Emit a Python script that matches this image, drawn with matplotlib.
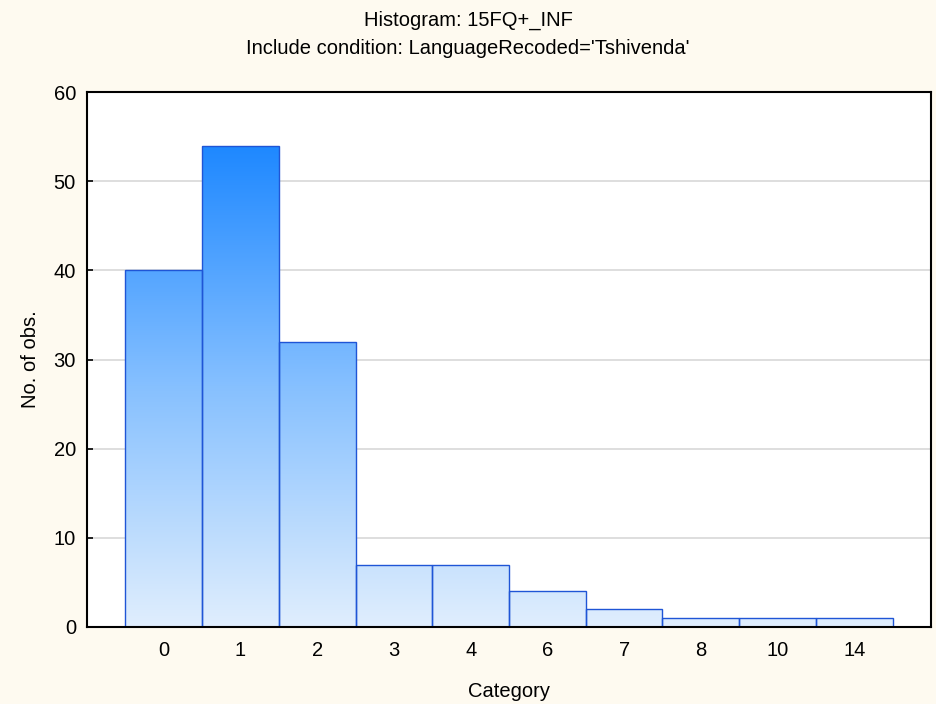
import numpy as np
from matplotlib import pyplot as plt
from matplotlib.colors import LinearSegmentedColormap

plt.rcParams['font.family'] = ['Liberation Sans', 'DejaVu Sans']

categories = ['0', '1', '2', '3', '4', '6', '7', '8', '10', '14']
counts = [40, 54, 32, 7, 7, 4, 2, 1, 1, 1]
title = 'Histogram: 15FQ+_INF'
subtitle = "Include condition: LanguageRecoded='Tshivenda'"

bg = '#fefaf0'
fs = 14.5
fig = plt.figure(figsize=(9.36, 7.04), dpi=100, facecolor=bg)
ax = fig.add_axes([87 / 936, 1 - 627 / 704, (931 - 87) / 936, (627 - 92) / 704])
ax.set_facecolor('white')

x = np.arange(len(categories))

# vertical gradient shared by all bars, clipped to each bar
cmap = LinearSegmentedColormap.from_list('grad', ['#e0eefd', '#86c0ff', '#1e88ff'])
grad = np.linspace(0, 1, 256).reshape(-1, 1)
bars = ax.bar(x, counts, width=1.0, facecolor='none', edgecolor='#1f55d6', linewidth=1.0, zorder=3)
for b in bars:
    im = ax.imshow(grad, cmap=cmap, aspect='auto', origin='lower',
                   extent=(-1, len(categories), 0, max(counts)), zorder=2)
    im.set_clip_path(b)
ax.set_xlim(-1, len(categories))
ax.set_ylim(0, 60)

ax.set_yticks(range(0, 61, 10))
ax.yaxis.grid(True, color='#d8d8d8', linewidth=1.2, zorder=0)
ax.set_axisbelow(True)
ax.set_xticks(x)
ax.set_xticklabels(categories)
ax.tick_params(axis='x', direction='in', length=4, width=1.2, pad=10, labelsize=fs)
ax.tick_params(axis='y', direction='in', length=4, width=1.2, pad=8, labelsize=fs)
for s in ax.spines.values():
    s.set_linewidth(1.5)
    s.set_color('black')
    s.set_zorder(5)

ax.set_xlabel('Category', fontsize=fs, labelpad=16)
ax.set_ylabel('No. of obs.', fontsize=fs, labelpad=10)
fig.text(0.5, 1 - 20 / 704, title, ha='center', va='center', fontsize=fs)
fig.text(0.5, 1 - 49 / 704, subtitle, ha='center', va='center', fontsize=fs)

plt.savefig('out.png', dpi=100, facecolor=bg)
